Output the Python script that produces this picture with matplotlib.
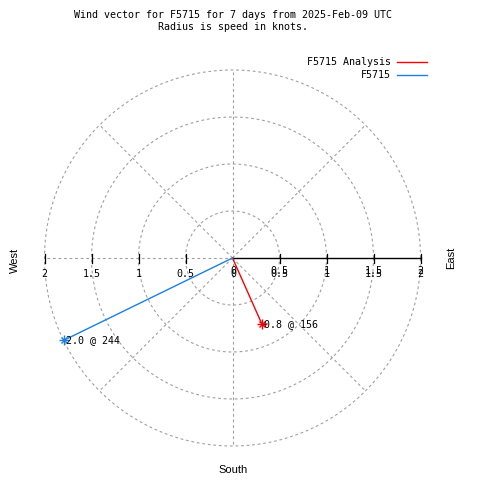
import numpy as np
import matplotlib
matplotlib.use("Agg")
import matplotlib.pyplot as plt

# wind vectors (speed in knots, direction in degrees from north)
series_names = ["F5715 Analysis", "F5715"]
speeds = [0.77, 2.0]
bearings = [156, 244]
point_labels = ["0.8 @ 156", "2.0 @ 244"]
colors = ["#ff0000", "#1a80e6"]

ring_radii = [0.5, 1.0, 1.5, 2.0]
tick_values = [0.5, 1.0, 1.5, 2.0]
tick_labels = ["0.5", "1", "1.5", "2"]
spoke_angles = [0, 45, 90, 135, 180, 225, 270, 315]

mono = "DejaVu Sans Mono"
fs = 7.2
grid_kw = dict(color="#a0a0a0", lw=0.8, linestyle=(0, (2.5, 2.5)), zorder=1)

fig = plt.figure(figsize=(4.8, 4.8), dpi=100)
ax = fig.add_axes([0, 0, 1, 1])
scale = 94.0  # pixels per knot
cx, cy = 232.5, 258.0
ax.set_xlim(-cx / scale, (480 - cx) / scale)
ax.set_ylim(-(480 - cy) / scale, cy / scale)
ax.axis("off")

# rings and spokes
t = np.linspace(0, 2 * np.pi, 400)
for r in ring_radii:
    ax.plot(r * np.cos(t), r * np.sin(t), **grid_kw)
rmax = ring_radii[-1]
for a in spoke_angles:
    if a == 90:
        continue
    rad = np.deg2rad(a)
    ax.plot([0, rmax * np.sin(rad)], [0, rmax * np.cos(rad)], **grid_kw)

# east axis line, ticks on both sides
ax.plot([0, rmax], [0, 0], color="black", lw=1.0, zorder=2)
tick_h = 4.5 / scale
for v in tick_values:
    for s in (1, -1):
        ax.plot([s * v, s * v], [-tick_h, tick_h], color="black", lw=0.9, zorder=2)

# tick labels (gnuplot draws the right side twice)
ly = -16 / scale
ax.text(0.01, ly, "0", fontsize=fs, family=mono, ha="center", va="center")
ax.text(0.01, ly + 3 / scale, "0", fontsize=fs, family=mono, ha="center", va="center")
for v, lab in zip(tick_values, tick_labels):
    ax.text(-v, ly, lab, fontsize=fs, family=mono, ha="center", va="center")
    ax.text(v, ly, lab, fontsize=fs, family=mono, ha="center", va="center")
    ax.text(v, ly + 3 / scale, lab, fontsize=fs, family=mono, ha="center", va="center")

# vectors
handles = []
for name, sp, b, lab, c in zip(series_names, speeds, bearings, point_labels, colors):
    rad = np.deg2rad(b)
    x, y = sp * np.sin(rad), sp * np.cos(rad)
    h, = ax.plot([0, x], [0, y], color=c, lw=1.0, zorder=3, label=name)
    ax.plot([x], [y], marker="+", color=c, ms=7, mew=1.0, zorder=4)
    ax.plot([x], [y], marker="x", color=c, ms=5, mew=1.0, zorder=4)
    ax.text(x + 2 / scale, y, lab, fontsize=fs, family=mono, ha="left", va="center", zorder=5)
    handles.append(h)

ax.legend(handles=handles, loc="upper right", bbox_to_anchor=(427 / 480, 1 - 57 / 480),
          frameon=False, markerfirst=False, prop={"family": mono, "size": fs},
          handlelength=3.0, handletextpad=0.6, borderpad=0, borderaxespad=0, labelspacing=0.3)

fig.text(0.485, 1 - 21 / 480, "Wind vector for F5715 for 7 days from 2025-Feb-09 UTC\nRadius is speed in knots.",
         ha="center", va="center", fontsize=fs, family=mono, linespacing=1.25)

sans = "Liberation Sans"
fig.text(15 / 480, 1 - 260 / 480, "West", rotation=90, ha="center", va="center", fontsize=8, family=sans)
fig.text(451 / 480, 1 - 258 / 480, "East", rotation=90, ha="center", va="center", fontsize=8, family=sans)
fig.text(233 / 480, 1 - 470 / 480, "South", ha="center", va="center", fontsize=8, family=sans)

fig.savefig("out.png", dpi=100)
